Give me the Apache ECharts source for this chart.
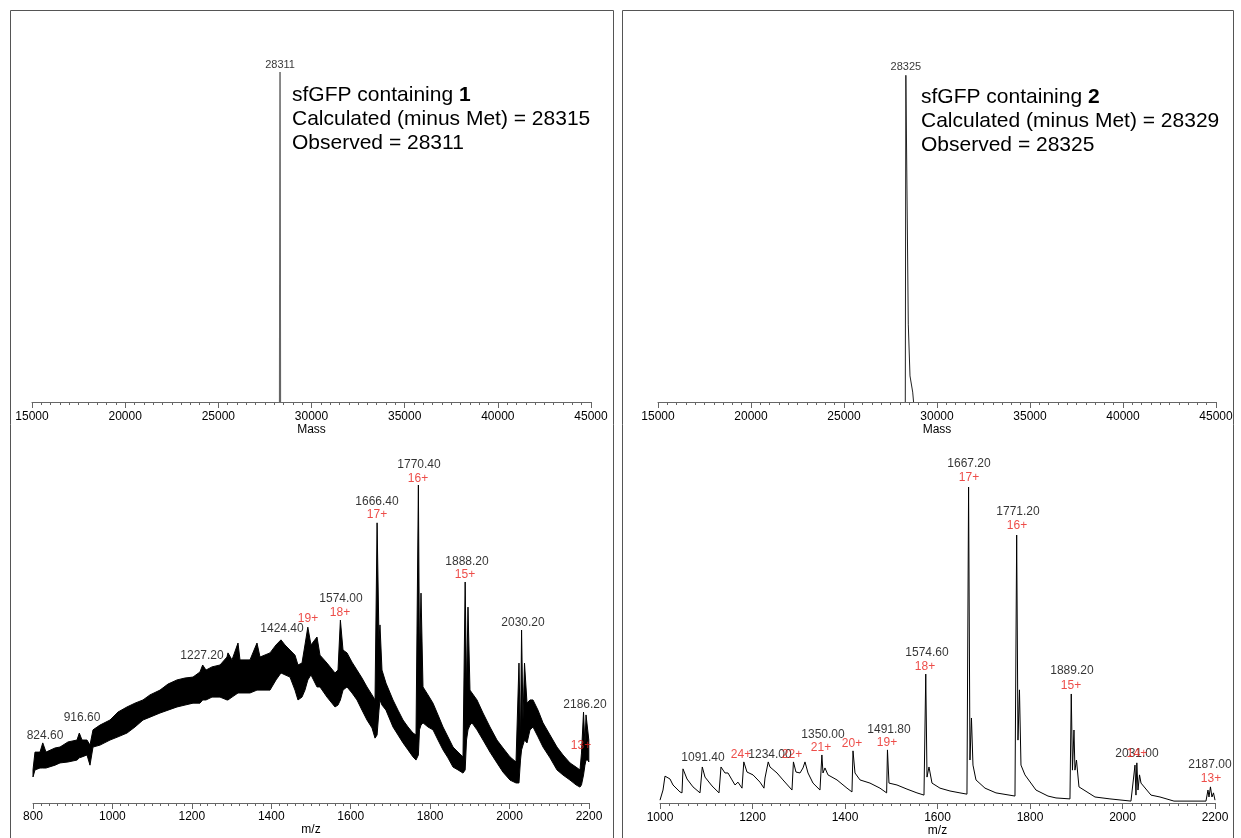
<!DOCTYPE html>
<html>
<head>
<meta charset="utf-8" />
<title>sfGFP mass spectra</title>
<script src="https://cdn.jsdelivr.net/npm/echarts@6/dist/echarts.min.js"></script>
<style>
  html, body { margin: 0; padding: 0; background: #fff; }
  #main { width: 1241px; height: 838px; }
</style>
</head>
<body>
<div id="main"></div>
<script>
// deconvoluted mass, relative intensity (%)
var tlMass = [28290, 28311, 28330];
var tlInt = [0, 100, 0];
var trMass = [28295, 28325, 28456, 28548, 28693, 28740];
var trInt = [0, 99, 23.6, 7.9, 3, 0];

// protein 1, raw m/z spectrum: noise band (lower / upper edge, %)
var blMz = [800, 805.0, 817.6, 824.6, 832.7, 855.4, 868.0, 888.1, 910.8, 916.6,
  923.4, 936.0, 943.5, 951.1, 968.7, 993.9, 1014.0, 1036.7, 1056.8, 1077.0,
  1094.6, 1119.8, 1139.9, 1162.6, 1182.7, 1202.9, 1220.5, 1227.2, 1235.6, 1250.7,
  1270.9, 1288.5, 1291.0, 1301.1, 1316.2, 1321.2, 1346.4, 1364.0, 1371.6, 1396.8,
  1411.9, 1424.4, 1434.5, 1447.1, 1459.7, 1467.2, 1477.3, 1484.8, 1492.0, 1499.9,
  1515.1, 1522.6, 1540.3, 1560.4, 1568.0, 1574.0, 1580.6, 1590.7, 1603.2, 1615.8,
  1628.4, 1641.0, 1653.6, 1661.2, 1666.4, 1671.2, 1673.7, 1678.7, 1688.8, 1706.5,
  1719.1, 1731.7, 1744.3, 1756.8, 1764.4, 1770.4, 1773.2, 1777.0, 1782.0, 1794.6,
  1807.2, 1819.8, 1832.4, 1844.9, 1857.6, 1870.2, 1882.7, 1888.2, 1891.6, 1895.3,
  1900.3, 1905.4, 1918.0, 1933.1, 1950.7, 1968.3, 1983.5, 2001.1, 2016.2, 2023.7,
  2027.5, 2030.2, 2033.8, 2037.6, 2043.9, 2051.4, 2059.0, 2071.6, 2084.2, 2101.8,
  2119.4, 2134.5, 2152.2, 2167.3, 2177.3, 2181.1, 2186.2, 2189.8, 2192.5, 2197.6,
  2199.5];
var blHigh = [10.4, 16.0, 16.0, 18.9, 16.0, 17.3, 17.6, 19.2, 19.8, 22.0,
  19.8, 19.8, 18.2, 23.0, 24.5, 26.1, 28.6, 30.2, 31.4, 32.4,
  34.0, 35.5, 37.4, 38.7, 39.3, 39.6, 41.2, 43.4, 41.8, 42.8,
  43.4, 45.9, 47.2, 45.0, 50.3, 45.0, 45.0, 50.3, 45.9, 47.2,
  49.7, 51.3, 49.7, 48.1, 46.5, 43.4, 44.0, 49.7, 55.3, 49.7,
  52.2, 46.5, 44.0, 40.9, 41.8, 57.5, 48.1, 47.2, 44.3, 41.8,
  39.3, 36.5, 34.0, 32.4, 88.1, 51.3, 56.0, 41.8, 37.7, 32.4,
  29.2, 26.1, 23.9, 22.0, 21.4, 100, 45.0, 66.0, 36.5, 34.0,
  31.4, 27.7, 23.9, 20.8, 17.6, 16.0, 14.5, 69.5, 35.5, 61.6,
  35.5, 34.6, 32.4, 28.3, 23.9, 19.8, 17.3, 14.5, 12.9, 44.0,
  19.8, 54.4, 26.1, 44.0, 31.4, 32.4, 32.4, 29.2, 25.2, 21.4,
  17.6, 15.1, 12.6, 11.3, 10.4, 15.7, 28.6, 18.2, 27.7, 22.0,
  19.8];
var blLow = [8.2, 10.4, 11.0, 11.0, 11.0, 11.9, 12.6, 12.9, 13.5, 14.2,
  14.5, 15.1, 11.9, 17.6, 18.2, 19.8, 20.8, 22.0, 23.9, 26.1,
  27.0, 28.3, 29.2, 30.2, 30.8, 31.4, 31.4, 32.4, 32.4, 33.3,
  33.3, 32.4, 32.4, 33.3, 34.6, 34.6, 34.6, 35.5, 35.5, 35.5,
  38.7, 40.9, 40.3, 39.6, 35.5, 32.4, 33.3, 35.5, 38.7, 40.3,
  36.5, 36.5, 33.3, 30.2, 30.8, 32.4, 35.5, 36.5, 34.6, 32.4,
  29.2, 26.1, 23.6, 20.4, 21.4, 29.2, 32.4, 30.8, 29.2, 23.9,
  21.4, 18.9, 16.7, 14.5, 13.5, 15.1, 23.0, 24.5, 25.2, 23.9,
  23.0, 19.8, 16.7, 14.2, 11.3, 10.4, 9.4, 10.4, 19.8, 23.0,
  24.5, 25.2, 23.0, 19.8, 16.0, 12.6, 9.7, 7.2, 6.3, 6.3,
  13.5, 16.7, 18.2, 19.8, 18.9, 23.0, 23.9, 20.8, 17.6, 14.2,
  10.4, 8.8, 7.2, 5.7, 5.0, 5.7, 8.8, 11.9, 13.5, 13.5,
  12.9];

// protein 2, raw m/z spectrum (%)
var brMz = [1000.0, 1006.5, 1010.8, 1021.6, 1028.1, 1043.2, 1047.6, 1049.7, 1058.4, 1071.3,
  1086.5, 1091.4, 1097.3, 1112.4, 1127.6, 1131.9, 1140.5, 1147.0, 1155.7, 1162.2,
  1168.6, 1177.3, 1181.2, 1188.1, 1201.1, 1216.2, 1224.8, 1227.0, 1234.0, 1237.8,
  1253.0, 1265.9, 1285.4, 1288.5, 1294.0, 1302.7, 1309.2, 1313.5, 1320.0, 1330.8,
  1345.9, 1350.0, 1352.4, 1356.7, 1363.2, 1382.7, 1404.3, 1415.1, 1417.3, 1421.6,
  1432.4, 1454.0, 1475.6, 1490.0, 1491.8, 1495.1, 1512.4, 1534.0, 1555.6, 1570.8,
  1574.6, 1577.3, 1581.6, 1588.1, 1605.4, 1627.0, 1648.6, 1663.7, 1667.2, 1670.2,
  1673.4, 1676.7, 1683.2, 1702.7, 1726.4, 1767.5, 1771.2, 1774.0, 1777.2, 1780.5,
  1789.1, 1812.9, 1838.9, 1856.2, 1886.4, 1889.2, 1891.8, 1895.1, 1897.2, 1900.5,
  1905.9, 1940.5, 1972.9, 2018.3, 2027.0, 2029.1, 2031.0, 2033.5, 2036.8, 2040.0,
  2061.6, 2081.1, 2111.3, 2180.5, 2184.8, 2187.0, 2190.2, 2193.4, 2196.7, 2200];
var brInt = [0.9, 4.1, 8.5, 7.6, 5.7, 3.5, 3.2, 10.8, 7.6, 5.1,
  3.2, 11.4, 8.2, 5.4, 3.2, 11.4, 9.5, 9.5, 7.3, 5.7,
  6.6, 4.7, 13.0, 9.8, 8.9, 6.6, 4.7, 7.9, 13.0, 11.4,
  9.5, 7.3, 4.1, 13.0, 9.8, 9.5, 11.1, 13.0, 9.5, 6.3,
  4.1, 15.2, 9.5, 11.1, 8.9, 7.3, 4.7, 3.5, 16.5, 9.5,
  7.3, 6.3, 4.7, 3.2, 16.8, 6.3, 5.7, 4.4, 3.2, 2.5,
  40.8, 8.2, 11.4, 6.3, 4.7, 3.8, 3.2, 2.8, 100, 13.6,
  26.9, 12.0, 7.3, 4.7, 3.2, 2.2, 84.8, 19.9, 35.8, 12.0,
  8.9, 4.1, 2.2, 1.6, 1.3, 34.5, 10.4, 23.1, 10.4, 13.6,
  5.1, 1.9, 1.3, 0.6, 12.0, 2.5, 12.7, 4.1, 8.9, 6.3,
  2.5, 1.9, 0.6, 0.6, 4.1, 1.9, 5.1, 1.9, 3.2, 0.9];

// peak annotations: text, anchor m/z, anchor height (%)
var tlPeakTxt = ['28311'], tlPeakX = [28311], tlPeakY = [102.1];
var trPeakTxt = ['28325'], trPeakX = [28325], trPeakY = [101.5];

var blPeakTxt = ['824.60', '916.60', '1227.20', '1424.40', '1574.00', '1666.40', '1770.40', '1888.20', '2030.20', '2186.20'];
var blPeakX = [830.2, 923.4, 1225.5, 1427.0, 1575.5, 1666.2, 1772.0, 1892.8, 2033.8, 2190.0];
var blPeakY = [21.1, 26.7, 46.2, 54.7, 64.2, 94.7, 106.3, 75.8, 56.6, 30.8];
var blChgTxt = ['19+', '18+', '17+', '16+', '15+', '13+'];
var blChgX = [1492.4, 1573.0, 1666.2, 1769.4, 1887.8, 2179.9];
var blChgY = [57.9, 59.7, 90.6, 101.9, 71.7, 17.9];

var brPeakTxt = ['1091.40', '1234.00', '1350.00', '1491.80', '1574.60', '1667.20', '1771.20', '1889.20', '2031.00', '2187.00'];
var brPeakX = [1093.0, 1237.8, 1352.4, 1495.1, 1577.3, 1668.1, 1774.0, 1890.7, 2031.3, 2189.1];
var brPeakY = [14.2, 15.2, 21.5, 23.1, 47.5, 107.3, 92.1, 41.8, 15.5, 12.0];
var brChgTxt = ['24+', '22+', '21+', '20+', '19+', '18+', '17+', '16+', '15+', '14+', '13+'];
var brChgX = [1175.1, 1285.4, 1348.1, 1415.1, 1490.8, 1572.9, 1668.1, 1771.8, 1888.6, 2031.3, 2191.3];
var brChgY = [15.2, 15.2, 17.4, 18.7, 19.0, 43.0, 102.8, 87.7, 37.0, 15.5, 7.6];

var FONT = '"Liberation Sans", Arial, sans-serif';

function pairs(xs, ys) {
  return xs.map(function (x, i) { return [x, ys[i]]; });
}
function named(xs, ys, txt) {
  return xs.map(function (x, i) { return { value: [x, ys[i]], name: txt[i] }; });
}
function xAxis(idx, min, max, interval, name, gap) {
  return {
    type: 'value', gridIndex: idx, min: min, max: max, interval: interval,
    name: name, nameLocation: 'middle', nameGap: gap,
    nameTextStyle: { color: '#000', fontSize: 12, fontFamily: FONT },
    axisLine: { onZero: false, lineStyle: { color: '#666', width: 1 } },
    axisTick: { length: 6, lineStyle: { color: '#666' } },
    minorTick: { show: true, splitNumber: 10, length: 3, lineStyle: { color: '#666' } },
    axisLabel: { color: '#000', fontSize: 12, fontFamily: FONT, margin: gap - 13,
      formatter: function (v) { return String(v); } },
    splitLine: { show: false }
  };
}
function yAxis(idx) {
  return { type: 'value', gridIndex: idx, min: 0, max: 100, show: false };
}
function textSeries(idx, data, color, size) {
  return {
    type: 'scatter', xAxisIndex: idx, yAxisIndex: idx, data: data,
    symbolSize: 1, itemStyle: { color: 'rgba(0,0,0,0)' }, clip: false, silent: true, z: 5,
    label: { show: true, position: 'inside', formatter: '{b}', color: color,
      fontSize: size, fontFamily: FONT, textBorderWidth: 0 }
  };
}
function trace(idx, data, color, width) {
  return {
    type: 'line', xAxisIndex: idx, yAxisIndex: idx, data: data, symbol: 'none',
    lineStyle: { color: color, width: width }, silent: true
  };
}

// noise band of the first raw spectrum: upper edge forward, lower edge back
function renderBand(params, api) {
  var pts = [];
  for (var i = 0; i < blMz.length; i++) pts.push(api.coord([blMz[i], blHigh[i]]));
  for (var j = blMz.length - 1; j >= 0; j--) pts.push(api.coord([blMz[j], blLow[j]]));
  return {
    type: 'polygon', shape: { points: pts },
    style: { fill: '#000', stroke: '#000', lineWidth: 1 }
  };
}

var myChart = echarts.init(document.getElementById('main'));
var option = {
  animation: false,
  backgroundColor: '#fff',
  grid: [
    { left: 32, width: 559, top: 72, height: 330 },
    { left: 658, width: 558, top: 72, height: 330 },
    { left: 33, width: 556, top: 485, height: 318 },
    { left: 660, width: 555, top: 487, height: 316 }
  ],
  xAxis: [
    xAxis(0, 15000, 45000, 5000, 'Mass', 22),
    xAxis(1, 15000, 45000, 5000, 'Mass', 22),
    xAxis(2, 800, 2200, 200, 'm/z', 21),
    xAxis(3, 1000, 2200, 200, 'm/z', 22)
  ],
  yAxis: [yAxis(0), yAxis(1), yAxis(2), yAxis(3)],
  graphic: [
    { type: 'rect', shape: { x: 10.5, y: 10.5, width: 603, height: 850 },
      style: { fill: 'none', stroke: '#555', lineWidth: 1 }, silent: true },
    { type: 'rect', shape: { x: 622.5, y: 10.5, width: 611, height: 850 },
      style: { fill: 'none', stroke: '#555', lineWidth: 1 }, silent: true },
    { type: 'text', left: 292, top: 85, silent: true,
      style: {
        text: '{n|sfGFP containing }{b|1}\n{n|Calculated (minus Met) = 28315}\n{n|Observed = 28311}',
        rich: {
          n: { fontSize: 21, fontFamily: FONT, fill: '#000', lineHeight: 24 },
          b: { fontSize: 21, fontFamily: FONT, fill: '#000', lineHeight: 24, fontWeight: 'bold' }
        }
      } },
    { type: 'text', left: 921, top: 87, silent: true,
      style: {
        text: '{n|sfGFP containing }{b|2}\n{n|Calculated (minus Met) = 28329}\n{n|Observed = 28325}',
        rich: {
          n: { fontSize: 21, fontFamily: FONT, fill: '#000', lineHeight: 24 },
          b: { fontSize: 21, fontFamily: FONT, fill: '#000', lineHeight: 24, fontWeight: 'bold' }
        }
      } }
  ],
  series: [
    trace(0, pairs(tlMass, tlInt), '#666', 1.5),
    trace(1, pairs(trMass, trInt), '#222', 1),
    {
      type: 'custom', xAxisIndex: 2, yAxisIndex: 2, coordinateSystem: 'cartesian2d',
      data: [[blMz[0], blLow[0]]], renderItem: renderBand, silent: true
    },
    trace(3, pairs(brMz, brInt), '#000', 1),
    textSeries(0, named(tlPeakX, tlPeakY, tlPeakTxt), '#000', 11),
    textSeries(1, named(trPeakX, trPeakY, trPeakTxt), '#000', 11),
    textSeries(2, named(blPeakX, blPeakY, blPeakTxt), '#000', 12),
    textSeries(2, named(blChgX, blChgY, blChgTxt), '#e8201c', 12),
    textSeries(3, named(brPeakX, brPeakY, brPeakTxt), '#000', 12),
    textSeries(3, named(brChgX, brChgY, brChgTxt), '#e8201c', 12)
  ]
};
myChart.setOption(option);
</script>
</body>
</html>
